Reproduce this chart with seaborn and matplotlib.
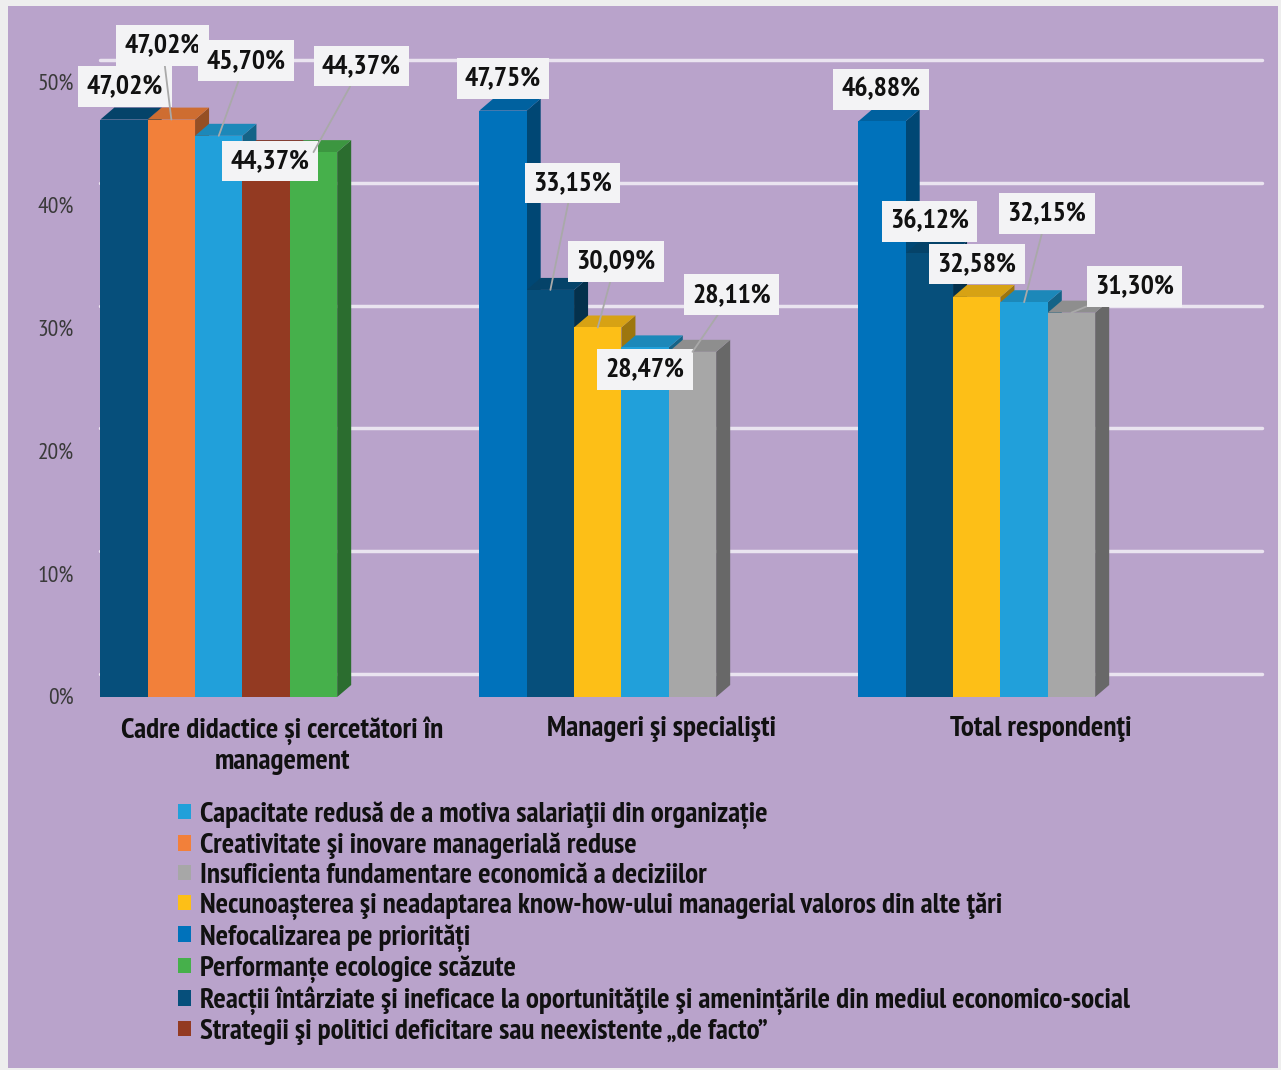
import matplotlib
matplotlib.use("Agg")
import matplotlib.pyplot as plt
import matplotlib.transforms as mtransforms
from matplotlib.patches import Patch, Polygon, Rectangle
from matplotlib.colors import to_rgb
import pandas as pd
import seaborn as sns

# ---- data -----------------------------------------------------------------
groups = [
    "Cadre didactice și cercetători în\nmanagement",
    "Manageri şi specialişti",
    "Total respondenţi",
]

factors = [
    "Capacitate redusă de a motiva salariaţii din organizație",
    "Creativitate şi inovare managerială reduse",
    "Insuficienta fundamentare economică a deciziilor",
    "Necunoașterea şi neadaptarea know-how-ului managerial valoros din alte ţări",
    "Nefocalizarea pe priorități",
    "Performanțe ecologice scăzute",
    "Reacții întârziate şi ineficace la oportunităţile şi amenințările din mediul economico-social",
    "Strategii şi politici deficitare sau neexistente „de facto”",
]

factor_colors = ["#21A0DA", "#F2803A", "#A7A7A7", "#FDBF17",
                 "#0072BB", "#46B04B", "#064F7B", "#933A22"]

# factor index shown in each group, left to right
cadre_factors = [6, 1, 0, 7, 5]
cadre_values = [47.02, 47.02, 45.70, 44.37, 44.37]

manageri_factors = [4, 6, 3, 0, 2]
manageri_values = [47.75, 33.15, 30.09, 28.47, 28.11]

total_factors = [4, 6, 3, 0, 2]
total_values = [46.88, 36.12, 32.58, 32.15, 31.30]

yticks = [0, 10, 20, 30, 40, 50]
ytick_labels = ["0%", "10%", "20%", "30%", "40%", "50%"]

# ---- layout (pixels) -------------------------------------------------------
W, H = 1281, 1070
BG = "#B9A3CB"
step = 0.125            # spacing of bars inside a group, in group units
depth_px = (14, 12)     # 3-D extrusion of the bars
# value-box offsets from each bar top, in pixels, and whether a leader is drawn
label_layout = [
    [(1, 33, False), (-9, 74, True), (27, 75, True), (4, -9, False), (48, 86, True)],
    [(0, 32, False), (22, 107, True), (18, 66, True), (0, -22, False), (39, 57, True)],
    [(-1, 32, False), (0, 32, False), (0, 33, False), (23, 89, True), (63, 26, True)],
]

sns.set_theme(style="white")
FONTS = ["Liberation Sans Narrow", "PT Sans Narrow", "Roboto Condensed", "DejaVu Sans"]
plt.rcParams["font.family"] = FONTS

fig = plt.figure(figsize=(W / 100, H / 100), dpi=100)
fig.patch.set_facecolor("#EEEEEE")
fig.patches.append(Rectangle((8 / W, 2 / H), 1270 / W, 1062 / H,
                             transform=fig.transFigure, facecolor=BG,
                             edgecolor="none", zorder=-1))

ax = fig.add_axes([100 / W, (H - 697) / H, 1162 / W, 614 / H])
ax.patch.set_visible(False)

rows = []
for gi, (fidx, vals) in enumerate([(cadre_factors, cadre_values),
                                   (manageri_factors, manageri_values),
                                   (total_factors, total_values)]):
    for k, (f, v) in enumerate(zip(fidx, vals)):
        rows.append({"pos": gi + (k - 2) * step, "value": v,
                     "factor": factors[f], "group": gi, "k": k})
df = pd.DataFrame(rows)

palette = dict(zip(factors, factor_colors))
sns.barplot(data=df, x="pos", y="value", hue="factor", hue_order=factors,
            palette=palette, native_scale=True, dodge=False, width=1,
            saturation=1, legend=False, ax=ax)

xmin = -118.75 / 379
xmax = (1262 - 218.75) / 379
ax.set_xlim(xmin, xmax)
ax.set_ylim(0, 50)

# depth of the extrusion in data units
ddx = depth_px[0] * (xmax - xmin) / 1162
ddy = depth_px[1] * 50 / 614


def shade(c, f):
    r, g, b = to_rgb(c)
    return (r * f, g * f, b * f)


bars = sorted(ax.patches, key=lambda p: p.get_x())
for p in bars:
    p.set_zorder(3)
    p.set_edgecolor("none")
for p in bars:
    x0, w, h = p.get_x(), p.get_width(), p.get_height()
    x1 = x0 + w
    c = p.get_facecolor()
    side = Polygon([(x1, 0), (x1, h), (x1 + ddx, h + ddy), (x1 + ddx, ddy)],
                   closed=True, facecolor=shade(c, 0.62), edgecolor="none", zorder=2)
    top = Polygon([(x0, h), (x1, h), (x1 + ddx, h + ddy), (x0 + ddx, h + ddy)],
                  closed=True, facecolor=shade(c, 0.85), edgecolor="none", zorder=2)
    ax.add_patch(side)
    ax.add_patch(top)

# back-wall gridlines
grid_shift = mtransforms.ScaledTranslation(0, 23 / 100, fig.dpi_scale_trans)
for t in yticks:
    ax.plot([0, 1], [t, t], transform=ax.get_yaxis_transform() + grid_shift,
            color="#EAE4F0", lw=2.5, zorder=0.5, clip_on=False)

# value boxes
for _, r in df.iterrows():
    dx, dy, leader = label_layout[int(r.group)][int(r.k)]
    txt = f"{r.value:.2f}".replace(".", ",") + "%"
    ax.annotate(txt, xy=(r.pos, r.value), xytext=(dx, dy),
                textcoords="offset pixels", ha="center", va="center",
                fontsize=20, fontweight="bold", color="#111111",
                bbox=dict(boxstyle="square,pad=0.3", fc="#F3F3F5", ec="none"),
                arrowprops=(dict(arrowstyle="-", color="#A9A9A9", lw=1.3,
                                 shrinkA=0, shrinkB=0) if leader else None),
                zorder=6, annotation_clip=False)

ax.set_yticks(yticks, ytick_labels)
ax.set_xticks([g + 0.168 for g in range(len(groups))], groups)
ax.tick_params(axis="y", length=0, pad=19, labelsize=17, labelcolor="#3A3A3A")
ax.tick_params(axis="x", length=0, pad=14, labelsize=21)
for lab in ax.get_xticklabels():
    lab.set_fontweight("bold")
    lab.set_color("#111111")
ax.set_xlabel("")
ax.set_ylabel("")
for s in ax.spines.values():
    s.set_visible(False)

handles = [Patch(facecolor=c, edgecolor="none") for c in factor_colors]
fig.legend(handles, factors, loc="upper left",
           bbox_to_anchor=(178 / W, (H - 801) / H), frameon=False,
           prop=dict(weight="bold", size=21), labelcolor="#111111",
           handlelength=0.45, handleheight=0.45, handletextpad=0.3,
           labelspacing=0.12, borderpad=0, borderaxespad=0)

fig.savefig("out.png", dpi=100, facecolor=fig.get_facecolor())
